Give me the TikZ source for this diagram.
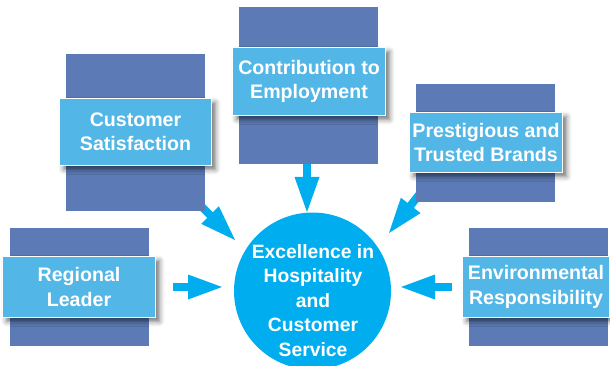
\documentclass[tikz,border=0pt]{standalone}
\usepackage{fontspec}
\setmainfont{Liberation Sans}
\usetikzlibrary{calc,shadows.blur}
\definecolor{slateblue}{RGB}{92,123,182}
\definecolor{skyblue}{RGB}{82,182,230}
\definecolor{hubblue}{RGB}{0,174,239}
% block arrow: tail, base of head, tip
\newcommand\pointer[3]{%
  \draw[shaft] (#1) -- ($(#2)!3pt!(#3)$);
  \fill[hubblue] (#3) -- ($(#2)!12.5pt!90:(#3)$) -- ($(#2)!12.5pt!-90:(#3)$) -- cycle;}
\begin{document}
\begin{tikzpicture}[x=1pt,y=-1pt,
  shaft/.style={draw=hubblue,line width=8pt},
  backrect/.style={fill=slateblue},
  infobox/.style={fill=skyblue,draw=white,line width=1.5pt,text=white,
    font=\bfseries\fontsize{19.6}{24.5}\selectfont,align=center,inner sep=0pt,
    blur shadow={shadow xshift=4pt,shadow yshift=-4pt,shadow blur radius=5pt,shadow opacity=55}},
  hub/.style={circle,fill=hubblue,minimum size=157pt,inner sep=0pt},
  hubtext/.style={text=white,font=\bfseries\fontsize{19.3}{24.5}\selectfont,align=center,inner sep=0pt}]
\useasboundingbox (0,0) rectangle (610,366);

% arrow geometry
\coordinate (rlS) at (173,287);  \coordinate (rlB) at (188,287);  \coordinate (rlT) at (222,287);
\coordinate (erS) at (452,287);  \coordinate (erB) at (435,287);  \coordinate (erT) at (401,287);
\coordinate (ceS) at (307,160);  \coordinate (ceB) at (307,177);  \coordinate (ceT) at (307,212);
\coordinate (csS) at (198,203);  \coordinate (csB) at (210,215);  \coordinate (csT) at (235,240);
\coordinate (ptS) at (422,191);  \coordinate (ptB) at (410.7,205.4); \coordinate (ptT) at (389,233);
\pointer{rlS}{rlB}{rlT}
\pointer{erS}{erB}{erT}
\pointer{ceS}{ceB}{ceT}
\pointer{csS}{csB}{csT}
\pointer{ptS}{ptB}{ptT}

% backing panels
\fill[backrect] (66,54) rectangle (205,211);
\fill[backrect] (239,7) rectangle (378,164);
\fill[backrect] (416,84) rectangle (555,202);
\fill[backrect] (10,228) rectangle (149,346);
\fill[backrect] (469,228) rectangle (608,346);

% labelled boxes
\node[infobox,minimum width=152pt,minimum height=67pt] (cs) at (135.5,132) {Customer\\Satisfaction};
\node[infobox,minimum width=153pt,minimum height=68pt] (ce) at (309,81.5) {Contribution to\\Employment};
\node[infobox,minimum width=153pt,minimum height=60pt] (pt) at (486,142.5) {Prestigious and\\Trusted Brands};
\node[infobox,minimum width=153pt,minimum height=61pt] (rl) at (79,287) {Regional\\Leader};
\node[infobox,minimum width=147pt,minimum height=61pt] (er) at (536,287) {Environmental\\Responsibility};

% central goal
\node[hub] (goal) at (312.5,291) {};
\node[hubtext] (goaltext) at (313,300.5) {Excellence in\\Hospitality\\and\\Customer\\Service};
\end{tikzpicture}
\end{document}
